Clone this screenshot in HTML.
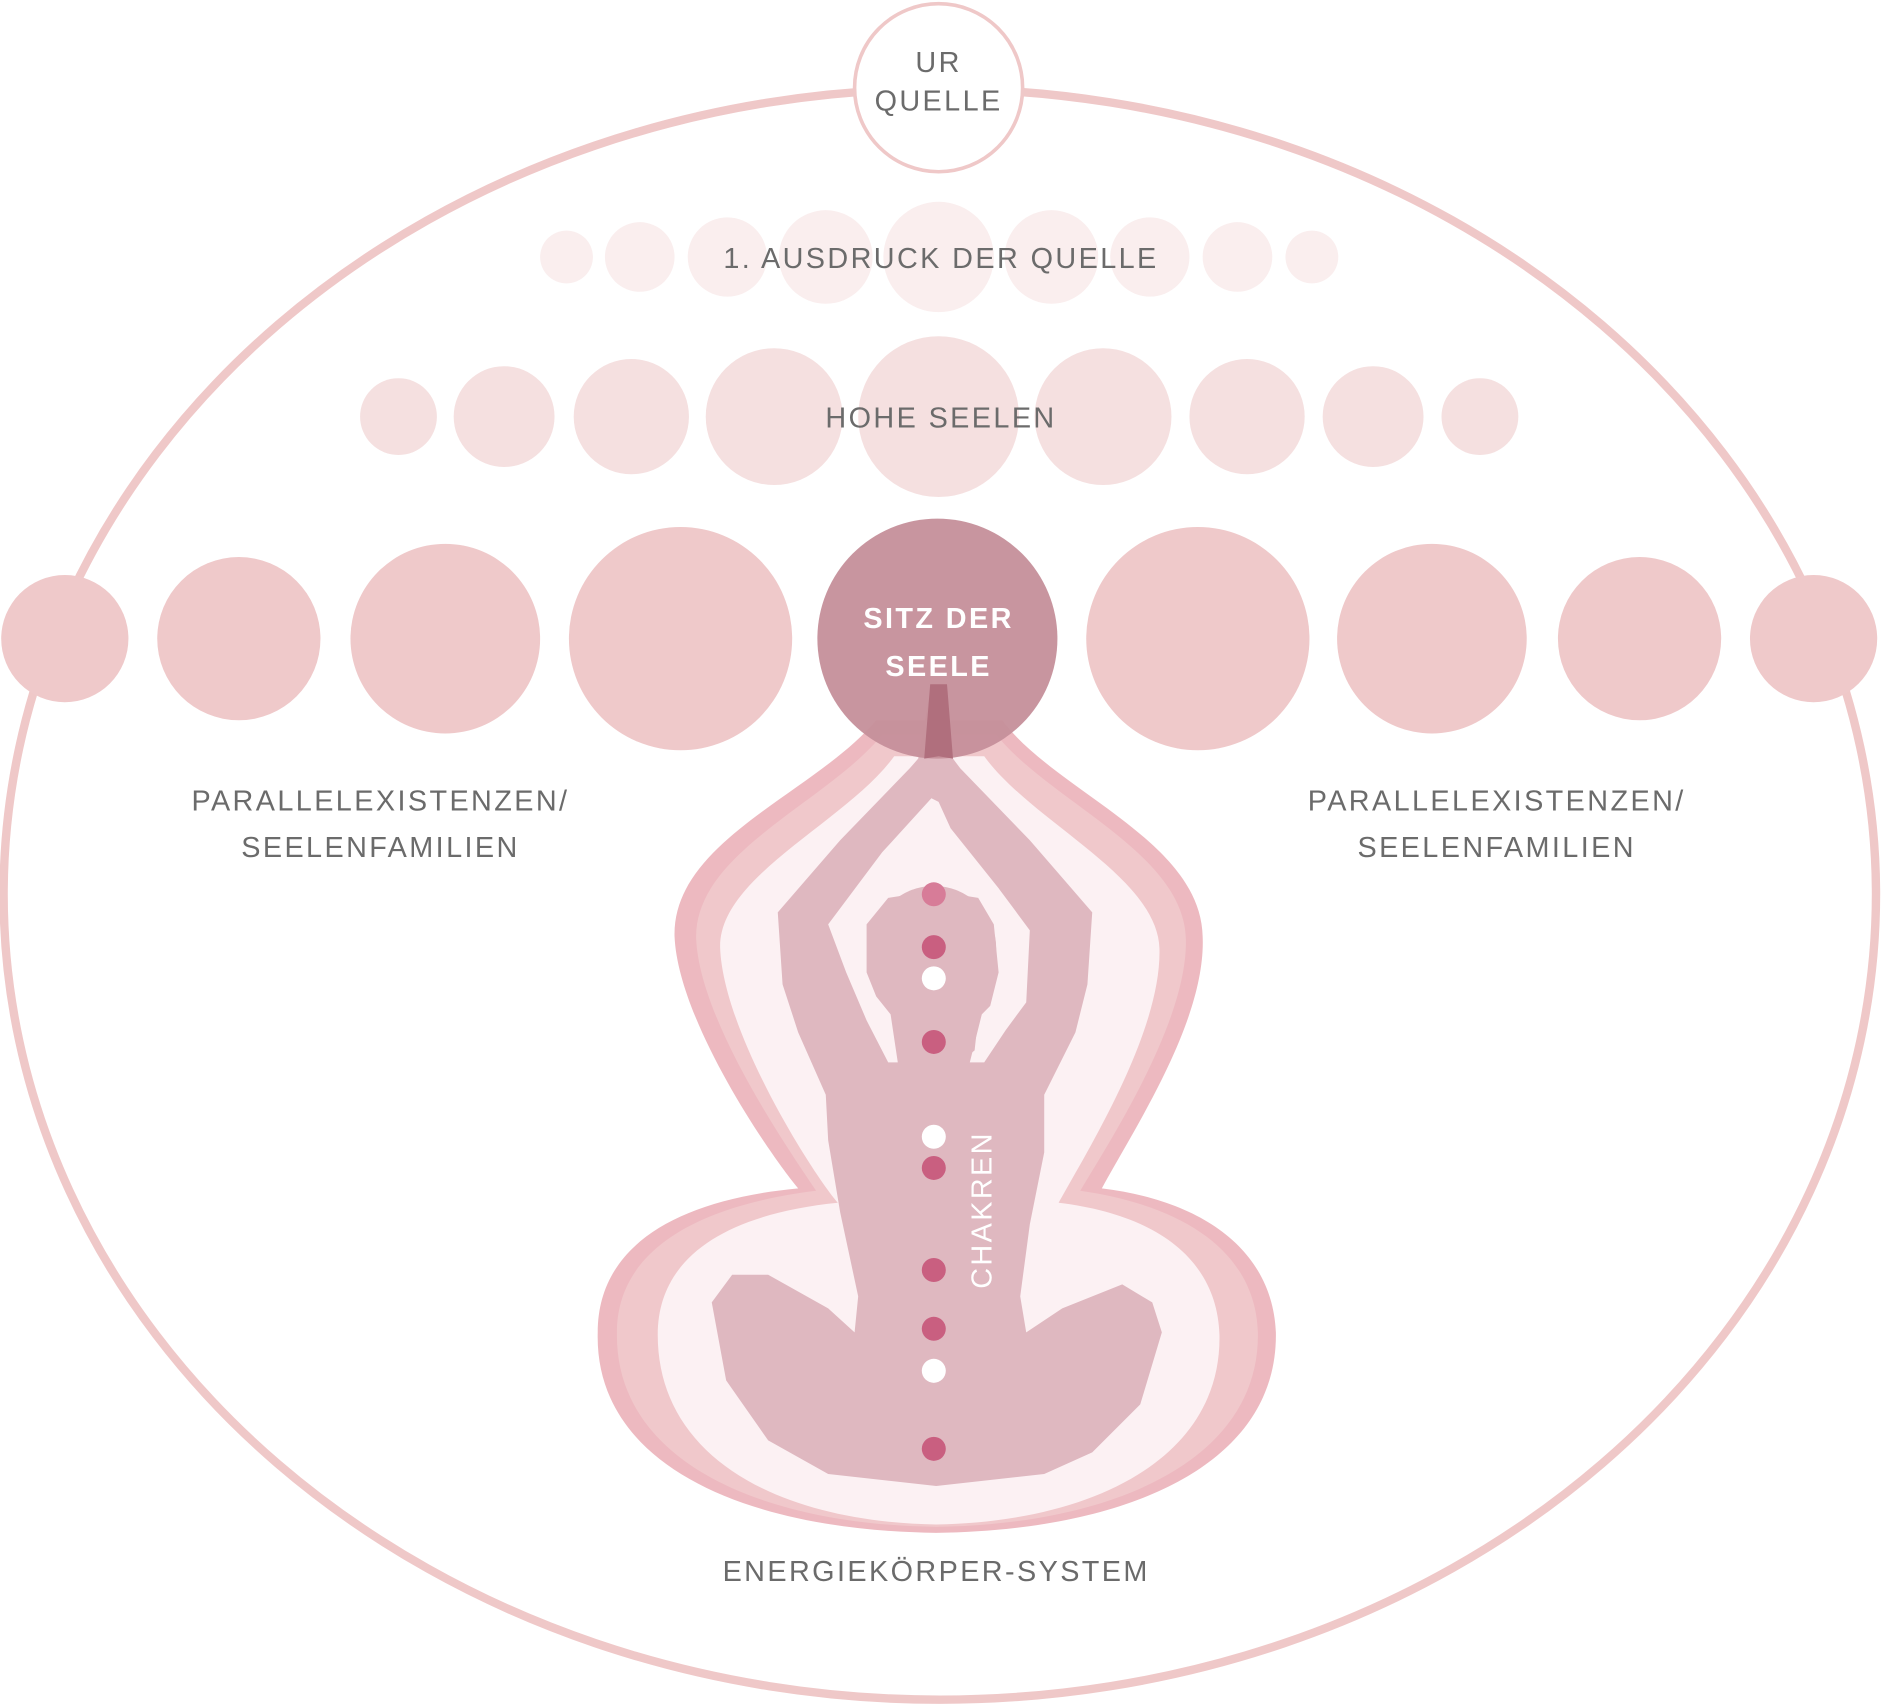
<!DOCTYPE html>
<html><head><meta charset="utf-8">
<style>
html,body{margin:0;padding:0;background:#fff;}
svg{display:block;}
text{font-family:"Liberation Sans",sans-serif;letter-spacing:2px;}
</style></head>
<body>
<svg width="1882" height="1707" viewBox="0 0 1568 1422" xmlns="http://www.w3.org/2000/svg">
<rect width="1568" height="1422" fill="#fff"/>
<ellipse cx="783" cy="745" rx="780" ry="671" fill="none" stroke="#efc8c8" stroke-width="7"/>
<!-- row 1 -->
<g fill="#faeeee">
<circle cx="472" cy="214" r="22"/><circle cx="533" cy="214" r="29"/><circle cx="606" cy="214" r="33"/>
<circle cx="688" cy="214" r="39"/><circle cx="782" cy="214" r="46"/><circle cx="876" cy="214" r="39"/>
<circle cx="958" cy="214" r="33"/><circle cx="1031" cy="214" r="29"/><circle cx="1093" cy="214" r="22"/>
</g>
<!-- row 2 -->
<g fill="#f5e0e0">
<circle cx="332" cy="347" r="32"/><circle cx="420" cy="347" r="42"/><circle cx="526" cy="347" r="48"/>
<circle cx="645" cy="347" r="57"/><circle cx="782" cy="347" r="67"/><circle cx="919" cy="347" r="57"/>
<circle cx="1039" cy="347" r="48"/><circle cx="1144" cy="347" r="42"/><circle cx="1233" cy="347" r="32"/>
</g>
<!-- row 3 -->
<g fill="#efc9ca">
<circle cx="54" cy="532" r="53"/><circle cx="199" cy="532" r="68"/><circle cx="371" cy="532" r="79"/>
<circle cx="567" cy="532" r="93"/><circle cx="998" cy="532" r="93"/><circle cx="1193" cy="532" r="79"/>
<circle cx="1366" cy="532" r="68"/><circle cx="1511" cy="532" r="53"/>
</g>
<!-- aura -->
<path fill="#edb9c0" d="M730 600 C680 660,560 700,562 780 C565 850,640 960,665 990 C560 1000,498 1040,498 1110 C495 1220,620 1275,780 1277 C940 1275,1065 1220,1063 1110 C1060 1040,1000 1000,918 990 C945 940,1005 850,1002 780 C1000 700,880 660,835 600 Z"/>
<path fill="#f0c8cb" d="M735 612 C690 668,578 710,580 782 C583 850,655 955,680 992 C575 1005,514 1045,514 1110 C512 1215,630 1270,780 1272 C930 1270,1050 1215,1048 1110 C1046 1045,990 1005,900 992 C925 950,990 850,988 782 C986 710,875 668,830 612 Z"/>
<path fill="#fcf1f3" d="M745 630 C705 685,598 730,600 790 C603 860,675 975,698 1002 C600 1012,548 1050,548 1112 C548 1215,650 1268,780 1270 C910 1268,1018 1215,1016 1112 C1014 1050,965 1012,882 1002 C905 960,968 860,966 790 C964 730,860 685,820 630 Z"/>
<!-- figure -->
<g fill="#dfb8c0">
<path d="M776 570 L788 570 L794 632 L800 640 L858 700 L910 760 L906 820 L896 860 L870 912 L870 960 L858 1020 L850 1080 L855 1110 L885 1090 L935 1070 L960 1085 L968 1110 L950 1170 L910 1210 L870 1228 L780 1238 L690 1228 L640 1200 L605 1150 L593 1085 L610 1062 L640 1062 L690 1090 L712 1110 L715 1080 L700 1010 L690 950 L688 912 L665 860 L652 820 L648 760 L700 700 L758 640 L765 632 Z"/>
</g>
<path fill="#fcf1f3" d="M776 665 L735 710 L690 770 L705 810 L722 850 L740 885 L748 885 L742 845 L730 830 L722 810 L722 770 L740 748 L778 742 L815 748 L828 770 L832 810 L825 838 L818 845 L808 885 L820 885 L838 858 L855 835 L858 775 L832 740 L792 690 L782 668 Z"/>
<ellipse cx="778" cy="790" rx="52" ry="52" fill="#dfb8c0"/>
<path fill="#dfb8c0" d="M742 820 L818 820 L812 875 L782 900 L750 875 Z"/>
<!-- chakras -->
<g fill="#c95f80">
<circle cx="778" cy="745" r="10" fill="#d77c98"/><circle cx="778" cy="789" r="10"/><circle cx="778" cy="868" r="10"/>
<circle cx="778" cy="973" r="10"/><circle cx="778" cy="1058" r="10"/><circle cx="778" cy="1107" r="10"/><circle cx="778" cy="1207" r="10"/>
</g>
<g fill="#fff">
<circle cx="778" cy="815" r="10"/><circle cx="778" cy="947" r="10"/><circle cx="778" cy="1142" r="10"/>
</g>
<!-- seat of soul -->
<circle cx="781" cy="532" r="100" fill="#c58f9a" opacity="0.95"/>
<path fill="#b06f7d" d="M775 570 L789 570 L794 632 L782 630 L770 632 Z"/>
<!-- ur quelle -->
<circle cx="782" cy="73" r="70" fill="#fff" stroke="#efc8c8" stroke-width="3"/>
<!-- texts -->
<g fill="#6b6b6b" font-size="24" text-anchor="middle">
<text x="782" y="60">UR</text>
<text x="782" y="92">QUELLE</text>
<text x="784" y="223">1. AUSDRUCK DER QUELLE</text>
<text x="784" y="356">HOHE SEELEN</text>
<text x="317" y="675">PARALLELEXISTENZEN/</text>
<text x="317" y="714">SEELENFAMILIEN</text>
<text x="1247" y="675">PARALLELEXISTENZEN/</text>
<text x="1247" y="714">SEELENFAMILIEN</text>
<text x="780" y="1317">ENERGIEKÖRPER-SYSTEM</text>
</g>
<g fill="#fff" font-size="24" text-anchor="middle" font-weight="bold">
<text x="782" y="523">SITZ DER</text>
<text x="782" y="563">SEELE</text>
</g>
<text x="0" y="0" fill="#fff" font-size="24" text-anchor="middle" transform="translate(826,1008) rotate(-90)">CHAKREN</text>
</svg>
</body></html>
